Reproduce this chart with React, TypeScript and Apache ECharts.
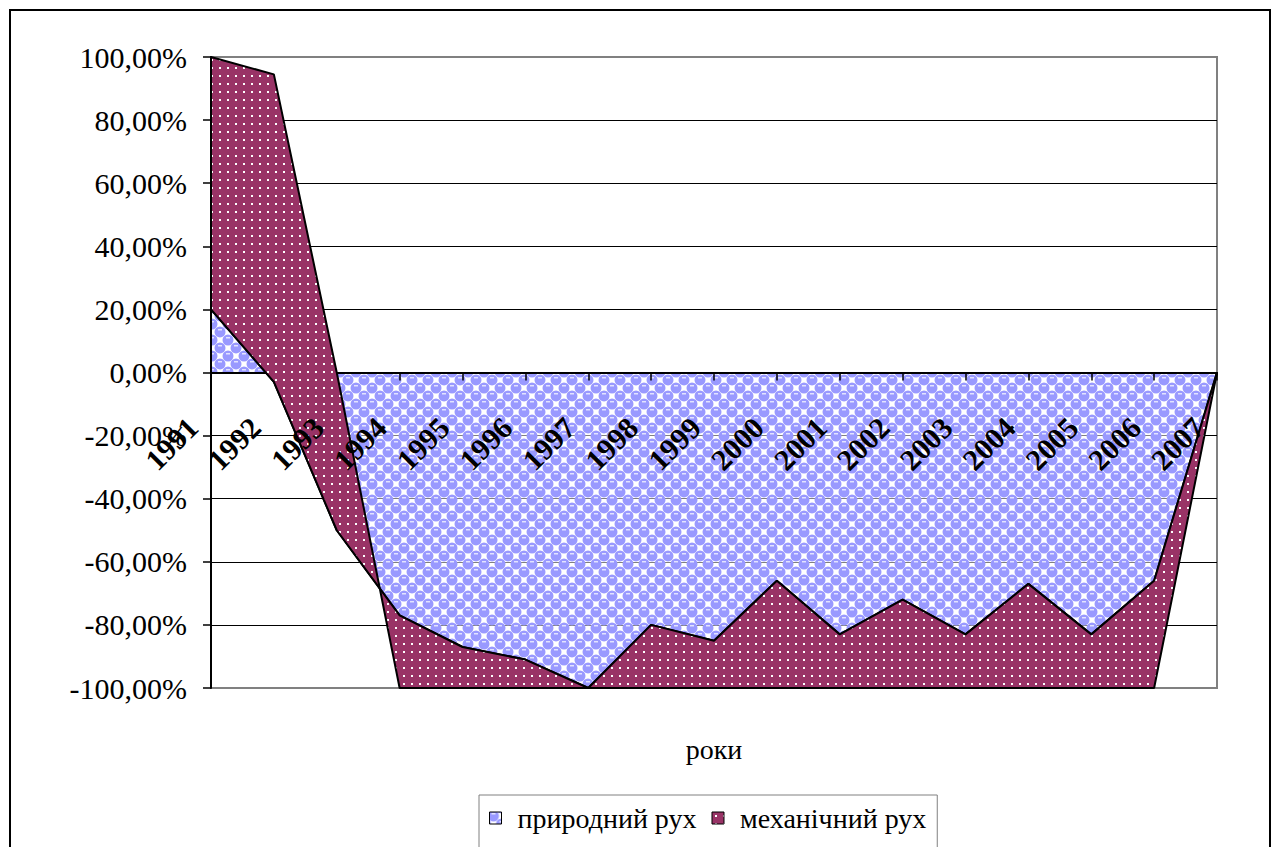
import React, { useEffect, useRef } from 'react';
import * as echarts from 'echarts';

const years = ['1991', '1992', '1993', '1994', '1995', '1996', '1997', '1998', '1999', '2000', '2001', '2002', '2003', '2004', '2005', '2006', '2007'];
// share of each component in the total population change, %
const naturalShare = [20, -3, -50, -77, -87, -91, -100, -80, -85, -66, -83, -72, -83, -67, -83, -66, 0];
const mechanicalShare = [80, 97.5, 50, -23, -13, -9, 0, -20, -15, -34, -17, -28, -17, -33, -17, -34, 0];
const seriesNames = ['природний рух', 'механічний рух'];
const axisTitle = 'роки';
const yMin = -100;
const yMax = 100;
const yStep = 20;

const FONT = 'Liberation Serif';

function makeTile(size: number, draw: (ctx: CanvasRenderingContext2D) => void): string {
  const c = document.createElement('canvas');
  c.width = size;
  c.height = size;
  const ctx = c.getContext('2d') as CanvasRenderingContext2D;
  draw(ctx);
  return c.toDataURL();
}

export default function App() {
  const ref = useRef<HTMLDivElement>(null);

  useEffect(() => {
    if (!ref.current) return;
    const chart = echarts.init(ref.current, null, { renderer: 'svg' });

    const blueSrc = makeTile(16, (ctx) => {
      ctx.fillStyle = 'rgba(255,255,255,0.5)';
      ctx.fillRect(0, 0, 16, 16);
      const centers = [[4, 4], [12, 12], [20, 4], [4, 20], [-4, 12], [12, -4], [20, 20], [-4, -4]];
      centers.forEach(([cx, cy]) => {
        ctx.beginPath();
        ctx.arc(cx, cy, 5.5, 0, Math.PI * 2);
        ctx.fillStyle = '#9999ff';
        ctx.fill();
      });
      centers.forEach(([cx, cy]) => {
        ctx.fillStyle = 'rgba(230,230,255,0.95)';
        ctx.fillRect(cx - 2, cy - 3, 4, 1.5);
      });
    });
    const darkSrc = makeTile(8, (ctx) => {
      ctx.fillStyle = '#993366';
      ctx.fillRect(0, 0, 8, 8);
      ctx.fillStyle = '#ffffff';
      ctx.fillRect(3, 3, 2, 2);
    });

    const bluePattern: any = { image: blueSrc, repeat: 'repeat', imageWidth: 16, imageHeight: 16 };
    const darkPattern: any = { image: darkSrc, repeat: 'repeat', imageWidth: 8, imageHeight: 8 };

    const fmt = (v: number) => v.toFixed(2).replace('.', ',') + '%';
    const legendText = { fontFamily: FONT, fontSize: 28, color: '#000', padding: [0, 0, 0, 11] };

    const option: any = {
      animation: false,
      backgroundColor: '#ffffff',
      grid: {
        left: 211,
        right: 57,
        top: 57,
        bottom: 159,
        containLabel: false,
        outerBoundsMode: 'none',
        show: true,
        borderColor: '#808080',
        borderWidth: 2,
        backgroundColor: 'transparent',
      },
      xAxis: [
        {
          type: 'category',
          data: years,
          boundaryGap: false,
          position: 'bottom',
          z: 3,
          axisLine: { onZero: true, onZeroAxisIndex: 0, lineStyle: { color: '#000', width: 2 } },
          axisTick: { show: true, interval: 0, length: 8, lineStyle: { color: '#000', width: 1.5 } },
          axisLabel: { show: false },
          splitLine: { show: false },
        },
        {
          type: 'category',
          data: years,
          boundaryGap: false,
          position: 'bottom',
          offset: -316,
          z: 6,
          axisLine: { show: false, onZero: false },
          axisTick: { show: false },
          axisLabel: {
            interval: 0,
            rotate: 45,
            margin: 32,
            padding: [0, 26, 0, 0],
            fontFamily: FONT,
            fontWeight: 'bold',
            fontSize: 30,
            color: '#000',
          },
          splitLine: { show: false },
        },
      ],
      yAxis: [
        {
          type: 'value',
          min: yMin,
          max: yMax,
          interval: yStep,
          position: 'left',
          z: 6,
          axisLine: { show: true, lineStyle: { color: '#000', width: 2 } },
          axisTick: { show: true, length: 8, lineStyle: { color: '#000', width: 1.5 } },
          axisLabel: { margin: 24, formatter: fmt, fontFamily: FONT, fontSize: 30, color: '#000' },
          splitLine: { show: false },
        },
        {
          type: 'value',
          min: yMin,
          max: yMax,
          interval: yStep,
          position: 'left',
          z: 0,
          axisLine: { show: false },
          axisTick: { show: false },
          axisLabel: { show: false },
          splitLine: { show: true, showMinLine: false, showMaxLine: false, lineStyle: { color: '#000', width: 1 } },
        },
      ],
      legend: {
        top: 795,
        left: 479,
        orient: 'horizontal',
        itemWidth: 12,
        itemHeight: 12,
        itemGap: 15,
        padding: [9, 11, 40, 10],
        borderColor: '#808080',
        borderWidth: 1,
        backgroundColor: '#ffffff',
        textStyle: legendText,
        data: [
          { name: seriesNames[0], icon: 'rect', textStyle: legendText, itemStyle: { color: bluePattern, borderColor: '#000', borderWidth: 1 } },
          { name: seriesNames[1], icon: 'rect', textStyle: legendText, itemStyle: { color: darkPattern, borderColor: '#000', borderWidth: 1 } },
        ],
      },
      graphic: [
        {
          type: 'rect',
          z: 100,
          silent: true,
          shape: { x: 10, y: 10, width: 1260, height: 870 },
          style: { fill: 'none', stroke: '#000', lineWidth: 2 },
        },
        {
          type: 'text',
          z: 100,
          silent: true,
          x: 714,
          y: 749,
          style: {
            text: axisTitle,
            fill: '#000',
            fontFamily: FONT,
            fontSize: 28,
            textAlign: 'center',
            textVerticalAlign: 'middle',
          },
        },
      ],
      series: [
        {
          name: seriesNames[0],
          type: 'line',
          data: naturalShare,
          stack: 'rukh',
          stackStrategy: 'all',
          symbol: 'none',
          z: 2,
          lineStyle: { color: '#000', width: 2 },
          itemStyle: { color: bluePattern },
          areaStyle: { color: bluePattern, opacity: 1 },
        },
        {
          name: seriesNames[1],
          type: 'line',
          data: mechanicalShare,
          stack: 'rukh',
          stackStrategy: 'all',
          symbol: 'none',
          z: 4,
          lineStyle: { color: '#000', width: 2 },
          itemStyle: { color: darkPattern },
          areaStyle: { color: darkPattern, opacity: 1 },
        },
        {
          name: 'edge',
          type: 'line',
          data: naturalShare,
          symbol: 'none',
          silent: true,
          z: 5,
          lineStyle: { color: '#000', width: 2 },
        },
      ],
    };

    chart.setOption(option);
    return () => chart.dispose();
  }, []);

  return <div ref={ref} style={{ position: 'absolute', left: 0, top: 0, width: 1274, height: 847 }} />;
}
